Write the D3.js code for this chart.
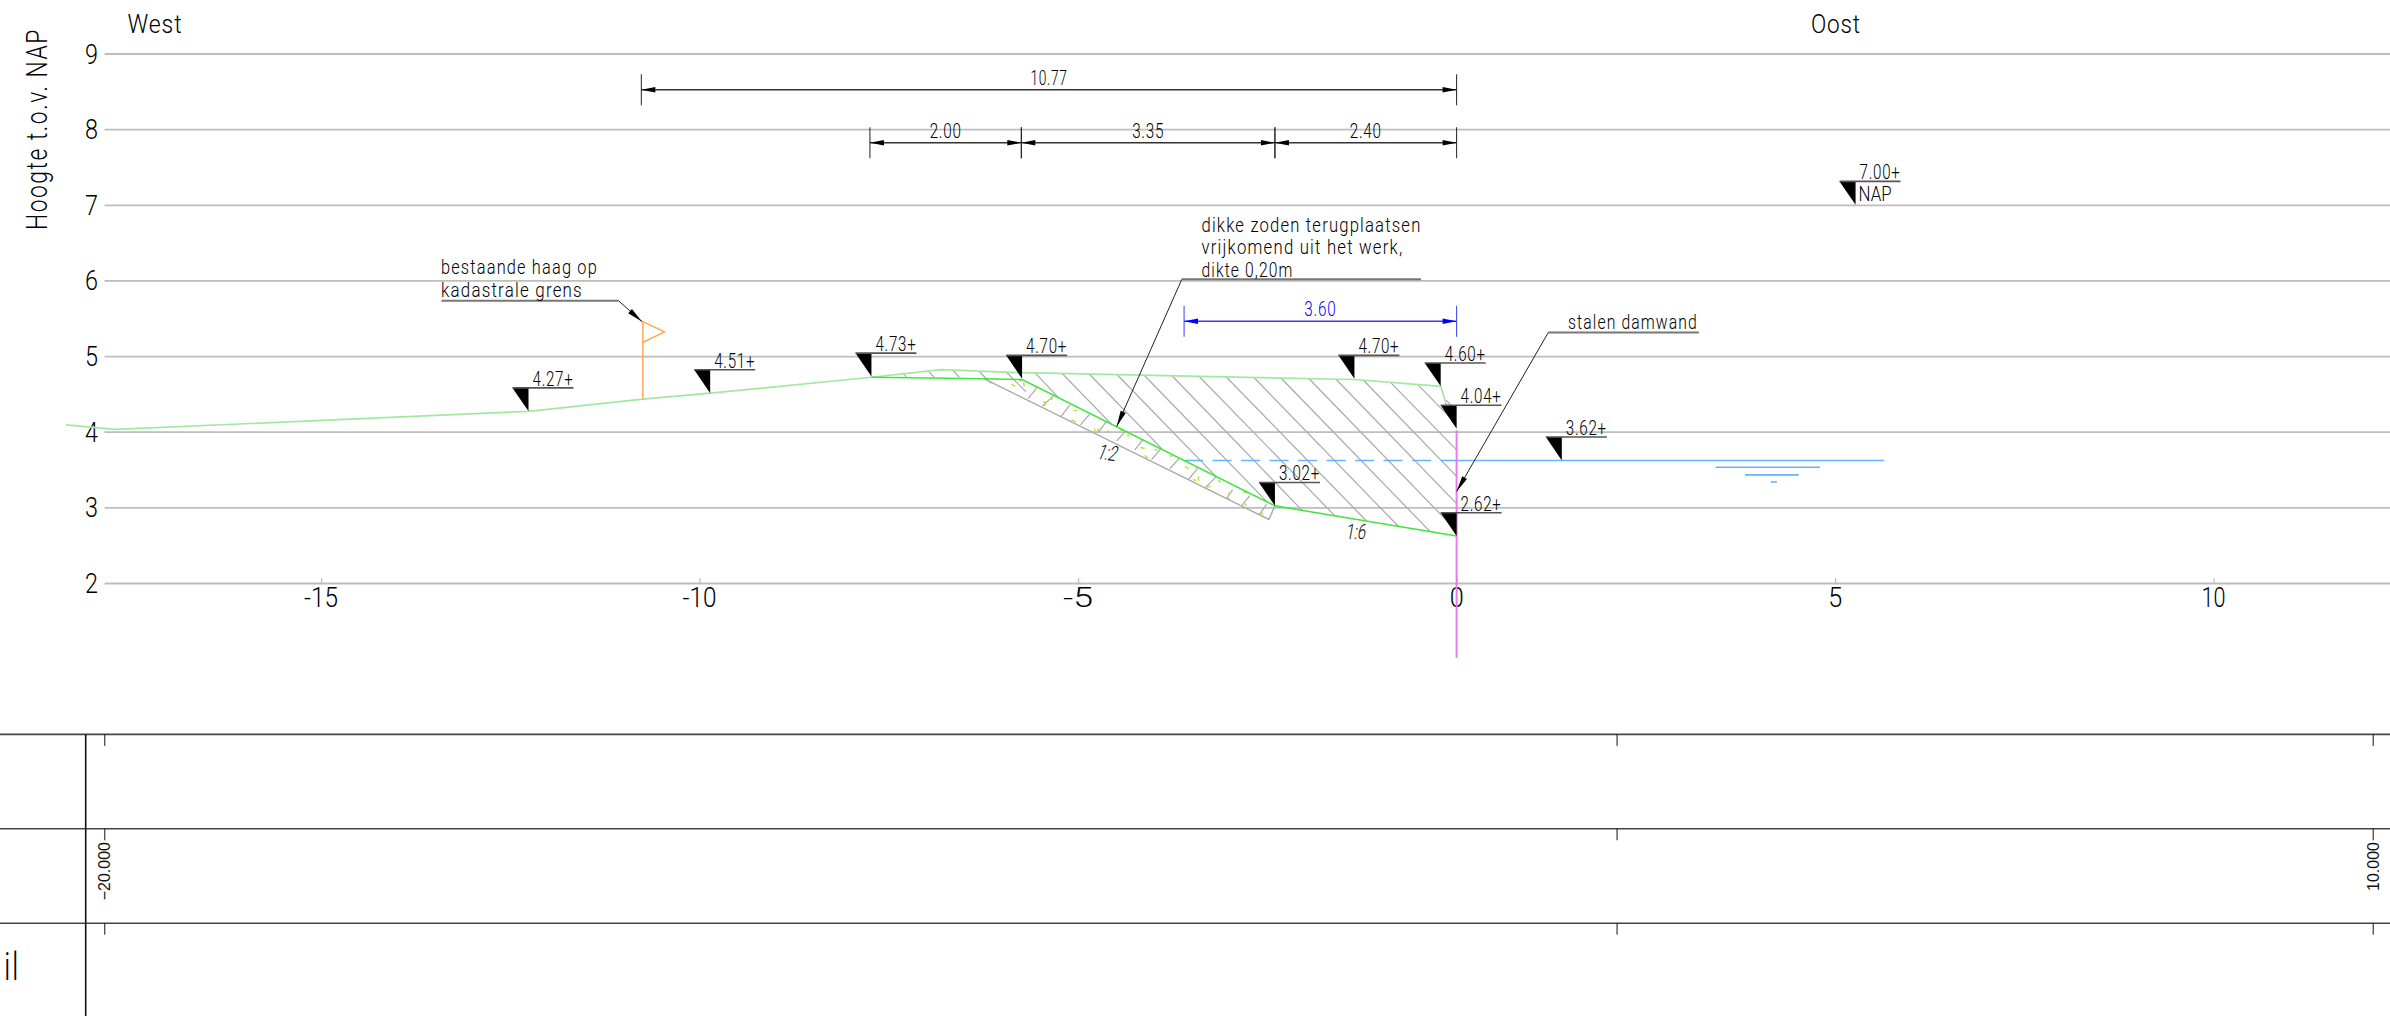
<!DOCTYPE html>
<html>
<head>
<meta charset="utf-8">
<script src="https://cdn.jsdelivr.net/npm/d3@7"></script>
<style>
    html, body { margin: 0; padding: 0; background: #fff; overflow: hidden; }
    svg { display: block; }
    text { font-family: Roboto, "Liberation Sans", sans-serif; font-weight: 400; fill: #111; }
</style>
</head>
<body>
<div id="chart"></div>
<script>
// axis ticks
const heightTicks = [2, 3, 4, 5, 6, 7, 8, 9];
const distanceTicks = [-15, -10, -5, 0, 5, 10];
const tableTicks = [-20000, 0, 10000];
const tableLabels = ['\u221220.000', '', '10.000'];

// terrain profiles [distance, height]
const existingGround = [[-18.37, 4.09], [-17.72, 4.03], [-12.26, 4.27], [-10.75, 4.43], [-9.86, 4.51], [-7.73, 4.72],
    [-6.81, 4.82], [-5.74, 4.78], [-1.35, 4.69], [-0.21, 4.60], [-0.13, 4.34]];
const newProfile = [[-7.73, 4.72], [-6.24, 4.70], [-5.74, 4.69], [-2.40, 3.02], [0, 2.62]];
const sodStrip = [[-6.24, 4.70], [-2.48, 2.84], [-2.40, 3.02]];

// excavated area hatch [x0, y0, x1, y1]
const cutHatch = [[-7.31, 4.78, -7.27, 4.72], [-6.98, 4.80, -6.90, 4.72], [-6.66, 4.82, -6.57, 4.72],
    [-6.30, 4.79, -6.15, 4.64], [-5.94, 4.78, -5.69, 4.53], [-5.57, 4.78, -5.25, 4.44], [-5.21, 4.77, -4.56, 4.10],
    [-4.85, 4.76, -3.87, 3.75], [-4.49, 4.76, -3.18, 3.41], [-4.13, 4.75, -2.50, 3.07], [-3.76, 4.74, -2.04, 2.96],
    [-3.40, 4.73, -1.61, 2.89], [-3.04, 4.72, -1.19, 2.82], [-2.68, 4.72, -0.77, 2.75], [-2.32, 4.71, -0.35, 2.68],
    [-1.95, 4.70, 0, 2.69], [-1.59, 4.69, 0, 3.05], [-1.23, 4.68, 0, 3.41], [-0.87, 4.65, 0, 3.76],
    [-0.51, 4.62, 0, 4.10], [-0.14, 4.42, 0, 4.27]];
const stripHatch = [[-5.66, 4.44, -5.56, 4.56], [-5.47, 4.34, -5.31, 4.49], [-5.22, 4.21, -5.11, 4.35],
    [-4.97, 4.09, -4.85, 4.23], [-4.74, 3.98, -4.63, 4.13], [-4.49, 3.88, -4.38, 4.00], [-4.25, 3.76, -4.15, 3.89],
    [-4.03, 3.63, -3.91, 3.77], [-3.79, 3.51, -3.66, 3.65], [-3.54, 3.37, -3.42, 3.52], [-3.32, 3.26, -3.17, 3.41],
    [-3.04, 3.12, -2.96, 3.23], [-2.84, 3.02, -2.73, 3.16], [-2.61, 2.90, -2.51, 3.04]];
const grassTufts = [[-5.88, 4.63, -5.83, 4.60], [-5.78, 4.68, -5.74, 4.67], [-5.72, 4.65, -5.71, 4.60],
    [-5.57, 4.56, -5.54, 4.59], [-5.46, 4.40, -5.42, 4.38], [-5.43, 4.37, -5.45, 4.34], [-5.34, 4.45, -5.35, 4.42],
    [-5.06, 4.28, -5.01, 4.28], [-5.09, 4.16, -5.03, 4.13], [-4.78, 4.04, -4.78, 3.99], [-4.73, 4.04, -4.75, 4.00],
    [-4.62, 4.01, -4.58, 4.00], [-4.45, 4.04, -4.41, 4.00], [-4.40, 4.00, -4.37, 4.00], [-4.34, 3.97, -4.34, 3.93],
    [-4.18, 3.79, -4.12, 3.78], [-4.12, 3.69, -4.08, 3.65], [-3.99, 3.77, -3.95, 3.75], [-3.79, 3.69, -3.76, 3.67],
    [-3.59, 3.54, -3.54, 3.51], [-3.48, 3.37, -3.44, 3.35], [-3.41, 3.41, -3.41, 3.35], [-3.30, 3.27, -3.25, 3.28],
    [-3.15, 3.36, -3.12, 3.33], [-3.02, 3.19, -2.99, 3.17], [-3.03, 3.14, -3.00, 3.11], [-2.82, 3.21, -2.77, 3.19],
    [-2.80, 3.05, -2.77, 3.02], [-2.58, 2.94, -2.56, 2.90]];

// level markers
const markerX = [-12.26, -9.86, -7.73, -5.74, -1.35, -0.21, 0, -2.40, 0, 1.39, 5.27];
const markerY = [4.27, 4.51, 4.73, 4.70, 4.70, 4.60, 4.04, 3.02, 2.62, 3.62, 7.00];
const markerLabels = ['4.27+', '4.51+', '4.73+', '4.70+', '4.70+', '4.60+', '4.04+', '3.02+', '2.62+', '3.62+', '7.00+'];

// dimension lines
const dimFrom = [-10.77, -7.75, -5.75, -2.40, -3.60];
const dimTo = [0, -5.75, -2.40, 0, 0];
const dimLevel = [8.52, 7.82, 7.82, 7.82, 5.46];
const dimLabels = ['10.77', '2.00', '3.35', '2.40', '3.60'];

// water, hedge, sheet pile
const waterLevel = 3.62;
const waterDashed = [-3.60, 0];
const waterSolid = [0, 5.65];
const waterTicks = [[3.42, 4.80, 3.53], [3.81, 4.52, 3.43], [4.15, 4.23, 3.335]];
const hedgeFlag = [[-10.75, 4.42], [-10.75, 5.455], [-10.465, 5.32], [-10.75, 5.18]];
const sheetPile = [[0, 4.02], [0, 1.01]];

// leader notes
const leaderLines = [
    [[-13.41, 5.73], [-11.07, 5.73], [-10.76, 5.455]],
    [[-0.47, 6.015], [-3.63, 6.015], [-4.49, 4.07]],
    [[3.20, 5.31], [1.21, 5.31], [0, 3.21]]
];
const slopeLabels = ['1:2', '1:6'];

const W = 2390, H = 1016;

const x = d3.scaleLinear().domain([-17.86, 12.33]).range([104.6, W]);
const y = d3.scaleLinear().domain([2, 9]).range([583, 53.5]);
const tableX = d3.scaleLinear().domain([-20000, 10000]).range([104.3, 2372.7]);
const line = d3.line().x(d => x(d[0])).y(d => y(d[1]));

const svg = d3.select('#chart').append('svg').attr('width', W).attr('height', H);

// condensed drafting-style text, real text squeezed to a fixed width
function cadText(str, px, py, size, opts = {}) {
    const t = svg.append('text')
        .attr('font-size', size)
        .attr('text-anchor', opts.anchor || 'start')
        .style('fill', opts.color || '#000')
        .style('letter-spacing', (opts.spacing || 0) + 'px')
        .style('font-weight', opts.weight || 300)
        .text(str);
    const len = t.node().getComputedTextLength();
    const sx = opts.width ? opts.width / len : 1;
    const skew = opts.skew ? ` skewX(${opts.skew})` : '';
    t.attr('transform', `translate(${px},${py}) rotate(${opts.rotate || 0})${skew} scale(${sx},1)`);
    return t;
}

function segments(data, color, width) {
    svg.append('g').selectAll('line').data(data).enter().append('line')
        .attr('x1', d => x(d[0])).attr('y1', d => y(d[1]))
        .attr('x2', d => x(d[2])).attr('y2', d => y(d[3]))
        .attr('stroke', color).attr('stroke-width', width);
}

// y axis with gridlines
const yAxis = svg.append('g')
    .attr('transform', `translate(${x.range()[0]},0)`)
    .call(d3.axisLeft(y).tickValues(heightTicks).tickSizeInner(-(W - x.range()[0])).tickSizeOuter(0).tickFormat(d => d));
yAxis.select('.domain').remove();
yAxis.selectAll('.tick line').attr('stroke', '#bdbdbd').attr('stroke-width', 1.8);
yAxis.selectAll('.tick text').remove();
heightTicks.forEach(d => cadText(String(d), 98, y(d) + 10, 27, { anchor: 'end', width: 13 }));

// x axis
const xAxis = svg.append('g')
    .attr('transform', `translate(0,${y(2)})`)
    .call(d3.axisBottom(x).tickValues(distanceTicks).tickSizeInner(-5).tickSizeOuter(0).tickFormat(d => d));
xAxis.select('.domain').remove();
xAxis.selectAll('.tick line').attr('stroke', '#bdbdbd').attr('stroke-width', 1.2);
xAxis.selectAll('.tick text').remove();
distanceTicks.forEach(d => {
    const s = String(d);
    cadText(s, x(d), y(2) + 24, 27, { anchor: 'middle', width: d < -5 ? 34 : (d < 0 ? 30 : (d === 10 ? 24 : 14)) });
});

// hatching
segments(cutHatch, '#a9a9a9', 1.2);
segments(stripHatch, '#a9a9a9', 1.2);
segments(grassTufts, '#bfe23c', 1.5);
svg.append('path').attr('d', line(sodStrip)).attr('fill', 'none').attr('stroke', '#a9a9a9').attr('stroke-width', 1.4);

// water
svg.append('line').attr('x1', x(waterDashed[0])).attr('x2', x(waterDashed[1]))
    .attr('y1', y(waterLevel)).attr('y2', y(waterLevel))
    .attr('stroke', '#66b2ff').attr('stroke-width', 1.6).attr('stroke-dasharray', '19,9.5');
svg.append('line').attr('x1', x(waterSolid[0])).attr('x2', x(waterSolid[1]))
    .attr('y1', y(waterLevel)).attr('y2', y(waterLevel))
    .attr('stroke', '#66b2ff').attr('stroke-width', 1.6);
segments(waterTicks.map(d => [d[0], d[2], d[1], d[2]]), '#66b2ff', 1.6);

// profiles
svg.append('path').attr('d', line(existingGround)).attr('fill', 'none').attr('stroke', '#a3e8a0').attr('stroke-width', 1.7);
svg.append('path').attr('d', line(newProfile)).attr('fill', 'none').attr('stroke', '#3ee63e').attr('stroke-width', 1.5);
svg.append('path').attr('d', line(sheetPile)).attr('fill', 'none').attr('stroke', '#ee78ee').attr('stroke-width', 2);

// hedge flag
svg.append('path').attr('d', line(hedgeFlag)).attr('fill', 'none').attr('stroke', '#ffaa55').attr('stroke-width', 1.5);

// level markers
markerX.forEach((mx, i) => {
    const px = x(mx), py = y(markerY[i]);
    svg.append('path').attr('d', `M${px},${py}L${px - 16},${py - 23.4}L${px},${py - 23.4}Z`).attr('fill', '#000');
    svg.append('line').attr('x1', px - 16).attr('x2', px + 45).attr('y1', py - 23.4).attr('y2', py - 23.4)
        .attr('stroke', '#555').attr('stroke-width', 1.6);
    cadText(markerLabels[i], px + 4, py - 25.5, 21, { width: 41, spacing: 1 });
});
cadText('NAP', x(5.27) + 3, y(7) - 4, 21, { width: 33 });

// dimension lines
dimLabels.forEach((lab, i) => {
    const x0 = x(dimFrom[i]), x1 = x(dimTo[i]), py = y(dimLevel[i]);
    const color = lab === '3.60' ? '#0000ff' : '#000';
    svg.append('line').attr('x1', x0).attr('x2', x1).attr('y1', py).attr('y2', py)
        .attr('stroke', lab === '3.60' ? '#3b3bff' : '#333').attr('stroke-width', 1.5);
    [x0, x1].forEach((ex, k) => {
        const dir = k === 0 ? 1 : -1;
        svg.append('line').attr('x1', ex).attr('x2', ex).attr('y1', py - 15.5).attr('y2', py + 15.5)
            .attr('stroke', lab === '3.60' ? '#3b3bff' : '#222').attr('stroke-width', 1);
        svg.append('path').attr('d', `M${ex},${py}L${ex + dir * 14},${py - 2.8}L${ex + dir * 14},${py + 2.8}Z`).attr('fill', color);
    });
    cadText(lab, (x0 + x1) / 2, py - 5, 21, { anchor: 'middle', width: lab === '10.77' ? 37 : 32, color: color, spacing: 1 });
});

// leader notes
leaderLines.forEach(pts => {
    svg.append('line').attr('x1', x(pts[0][0])).attr('x2', x(pts[1][0])).attr('y1', y(pts[0][1])).attr('y2', y(pts[1][1]))
        .attr('stroke', '#777').attr('stroke-width', 2);
    svg.append('line').attr('x1', x(pts[1][0])).attr('x2', x(pts[2][0])).attr('y1', y(pts[1][1])).attr('y2', y(pts[2][1]))
        .attr('stroke', '#222').attr('stroke-width', 1);
    const tx = x(pts[2][0]), ty = y(pts[2][1]);
    const a = Math.atan2(y(pts[1][1]) - ty, x(pts[1][0]) - tx);
    svg.append('path').attr('transform', `translate(${tx},${ty}) rotate(${a * 180 / Math.PI})`)
        .attr('d', 'M0,0L16,-2.8L16,2.8Z').attr('fill', '#000');
});
const noteOpts = { spacing: 1.5 };
cadText('bestaande haag op', 441, 274, 21, { ...noteOpts, width: 157 });
cadText('kadastrale grens', 441, 297, 21, { ...noteOpts, width: 142 });
cadText('dikke zoden terugplaatsen', 1201.5, 231.5, 21, { ...noteOpts, width: 220 });
cadText('vrijkomend uit het werk,', 1201.5, 254, 21, { ...noteOpts, width: 202 });
cadText('dikte 0,20m', 1201.5, 276.5, 21, { ...noteOpts, width: 92 });
cadText('stalen damwand', 1568, 329, 21, { ...noteOpts, width: 130 });
cadText(slopeLabels[0], x(-4.64), y(3.63), 21, { anchor: 'middle', width: 19, skew: -14, rotate: 8 });
cadText(slopeLabels[1], x(-1.34), y(2.58), 21, { anchor: 'middle', width: 20, skew: -10 });

// titles
cadText('West', 127.5, 33, 26, { width: 55, spacing: 1 });
cadText('Oost', 1811, 33, 26, { width: 50, spacing: 1 });
cadText('Hoogte t.o.v. NAP', 47, 230, 29, { width: 202, rotate: -90, spacing: 2 });

// lower table
const rowY = [734.4, 828.8, 923.2];
rowY.forEach(ry => {
    svg.append('line').attr('x1', 0).attr('x2', W).attr('y1', ry).attr('y2', ry).attr('stroke', '#444').attr('stroke-width', 1.6);
    svg.append('g').attr('transform', `translate(0,${ry})`)
        .call(d3.axisBottom(tableX).tickValues(tableTicks).tickSizeInner(11.5).tickSizeOuter(0).tickFormat(''))
        .call(g => g.select('.domain').remove())
        .call(g => g.selectAll('.tick line').attr('stroke', '#111').attr('stroke-width', 1));
});
svg.append('line').attr('x1', 85.7).attr('x2', 85.7).attr('y1', rowY[0]).attr('y2', H).attr('stroke', '#111').attr('stroke-width', 1.6);
tableTicks.forEach((t, i) => {
    if (!tableLabels[i]) return;
    svg.append('text')
        .attr('transform', `translate(${tableX(t) + 6},842) rotate(-90)`)
        .attr('text-anchor', 'end')
        .attr('font-size', 16)
        .style('font-family', '"Liberation Sans"')
        .text(tableLabels[i]);
});
cadText('il', 4, 980, 38, { width: 16, spacing: 2 });
</script>
</body>
</html>
